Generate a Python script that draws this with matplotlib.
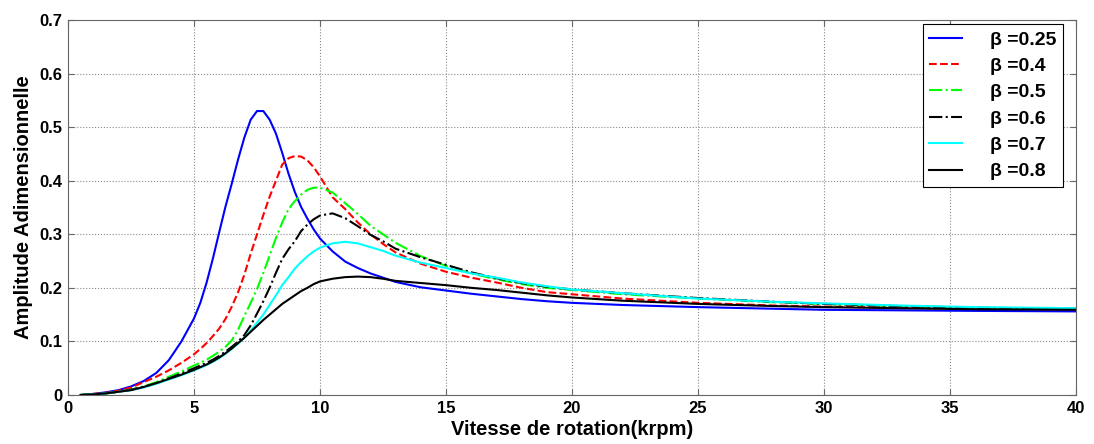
import matplotlib
matplotlib.use('Agg')
import matplotlib.pyplot as plt

# Vitesse de rotation (krpm), common grid
vitesse = [0.5, 1, 1.5, 2, 2.5, 3, 3.5, 4, 4.5,
           5, 5.25, 5.5, 5.75, 6, 6.25, 6.5, 6.75, 7, 7.25, 7.5, 7.75,
           8, 8.25, 8.5, 8.75, 9, 9.25, 9.5, 9.75, 10,
           10.5, 11, 11.5, 12, 12.5, 13,
           14, 15, 16, 17, 18, 19, 20,
           22, 25, 28, 30, 33, 36, 40]

# Amplitude adimensionnelle for each beta
amp_025 = [0.0, 0.002, 0.005, 0.009, 0.016, 0.026, 0.041, 0.065, 0.1,
           0.143, 0.172, 0.21, 0.255, 0.304, 0.352, 0.395, 0.44, 0.481, 0.514, 0.53, 0.53,
           0.514, 0.488, 0.452, 0.413, 0.379, 0.351, 0.329, 0.309, 0.292,
           0.268, 0.249, 0.237, 0.227, 0.219, 0.211,
           0.201, 0.195, 0.189, 0.184, 0.179, 0.175, 0.172,
           0.168, 0.164, 0.161, 0.159, 0.158, 0.157, 0.156]
amp_04 = [0.0, 0.002, 0.004, 0.008, 0.014, 0.024, 0.034, 0.046, 0.06,
          0.076, 0.086, 0.097, 0.11, 0.124, 0.142, 0.165, 0.192, 0.225, 0.264, 0.3, 0.336,
          0.37, 0.4, 0.43, 0.442, 0.446, 0.445, 0.438, 0.425, 0.408,
          0.369, 0.347, 0.322, 0.3, 0.282, 0.266,
          0.245, 0.23, 0.219, 0.21, 0.2, 0.192, 0.188,
          0.18, 0.172, 0.167, 0.165, 0.163, 0.161, 0.16]
amp_05 = [0.0, 0.0015, 0.003, 0.006, 0.01, 0.016, 0.024, 0.034, 0.044,
          0.055, 0.06, 0.066, 0.073, 0.081, 0.09, 0.102, 0.122, 0.148, 0.172, 0.198, 0.228,
          0.26, 0.293, 0.322, 0.347, 0.362, 0.374, 0.383, 0.387, 0.387,
          0.378, 0.358, 0.338, 0.316, 0.3, 0.284,
          0.259, 0.241, 0.227, 0.216, 0.207, 0.2, 0.196,
          0.188, 0.18, 0.173, 0.17, 0.166, 0.163, 0.161]
amp_06 = [0.0, 0.0015, 0.003, 0.006, 0.01, 0.015, 0.022, 0.031, 0.04,
          0.05, 0.055, 0.06, 0.066, 0.073, 0.081, 0.09, 0.1, 0.112, 0.13, 0.152, 0.175,
          0.2, 0.228, 0.254, 0.272, 0.287, 0.306, 0.318, 0.328, 0.335,
          0.339, 0.33, 0.315, 0.299, 0.287, 0.273,
          0.257, 0.243, 0.229, 0.218, 0.209, 0.202, 0.197,
          0.19, 0.181, 0.174, 0.17, 0.166, 0.163, 0.161]
amp_07 = [0.0, 0.001, 0.003, 0.006, 0.009, 0.014, 0.021, 0.029, 0.037,
          0.046, 0.051, 0.056, 0.062, 0.069, 0.077, 0.086, 0.096, 0.107, 0.12, 0.135, 0.15,
          0.168, 0.186, 0.205, 0.22, 0.236, 0.248, 0.259, 0.268, 0.275,
          0.283, 0.286, 0.283, 0.276, 0.269, 0.26,
          0.247, 0.237, 0.227, 0.219, 0.21, 0.203, 0.197,
          0.19, 0.18, 0.174, 0.171, 0.167, 0.164, 0.162]
amp_08 = [0.0, 0.001, 0.003, 0.006, 0.009, 0.015, 0.022, 0.03, 0.038,
          0.047, 0.052, 0.057, 0.063, 0.07, 0.078, 0.087, 0.097, 0.107, 0.118, 0.129, 0.14,
          0.15, 0.16, 0.17, 0.178, 0.186, 0.194, 0.2, 0.207, 0.212,
          0.217, 0.22, 0.221, 0.22, 0.217, 0.213,
          0.209, 0.205, 0.2, 0.196, 0.191, 0.186, 0.182,
          0.176, 0.17, 0.166, 0.164, 0.162, 0.16, 0.159]

labels = ['\u03b2 =0.25', '\u03b2 =0.4', '\u03b2 =0.5', '\u03b2 =0.6', '\u03b2 =0.7', '\u03b2 =0.8']

plt.rcParams['font.family'] = ['Liberation Sans', 'DejaVu Sans']
plt.rcParams['font.weight'] = 'bold'

fig = plt.figure(figsize=(10.94, 4.44), dpi=100)
ax = fig.add_axes([0.0622, 0.1104, 0.9213, 0.8446])

ax.plot(vitesse, amp_025, color='#0000ff', ls='-', lw=1.5, label=labels[0])
ax.plot(vitesse, amp_04, color='#ff0000', ls='--', lw=1.5, label=labels[1])
ax.plot(vitesse, amp_05, color='#00ff00', ls='-.', lw=1.5, label=labels[2])
ax.plot(vitesse, amp_06, color='black', ls='-.', lw=1.5, label=labels[3])
ax.plot(vitesse, amp_07, color='#00ffff', ls='-', lw=1.5, label=labels[4])
ax.plot(vitesse, amp_08, color='black', ls='-', lw=1.5, label=labels[5])

ax.set_xlim(0, 40)
ax.set_ylim(0, 0.7)
ax.set_xticks(range(0, 41, 5))
ax.set_yticks([0, 0.1, 0.2, 0.3, 0.4, 0.5, 0.6, 0.7])
ax.set_yticklabels(['0', '0.1', '0.2', '0.3', '0.4', '0.5', '0.6', '0.7'])
ax.grid(True, ls=':', color='#888888', lw=0.8)
ax.tick_params(direction='in', top=True, right=True, labelsize=12, length=4,
               color='#666666', pad=4)
for s in ax.spines.values():
    s.set_color('#666666')

ax.set_xlabel('Vitesse de rotation(krpm)', fontsize=14.5, fontweight='bold', labelpad=3)
ax.set_ylabel('Amplitude Adimensionnelle', fontsize=14.5, fontweight='bold', labelpad=5)

leg = ax.legend(loc='upper right', bbox_to_anchor=(0.987, 0.989), borderaxespad=0,
                fontsize=14, handlelength=1.7, handletextpad=1.4,
                borderpad=0.35, labelspacing=0.45, fancybox=False, framealpha=1,
                edgecolor='black')
leg.get_frame().set_linewidth(0.8)

fig.savefig('out.png', dpi=100)
